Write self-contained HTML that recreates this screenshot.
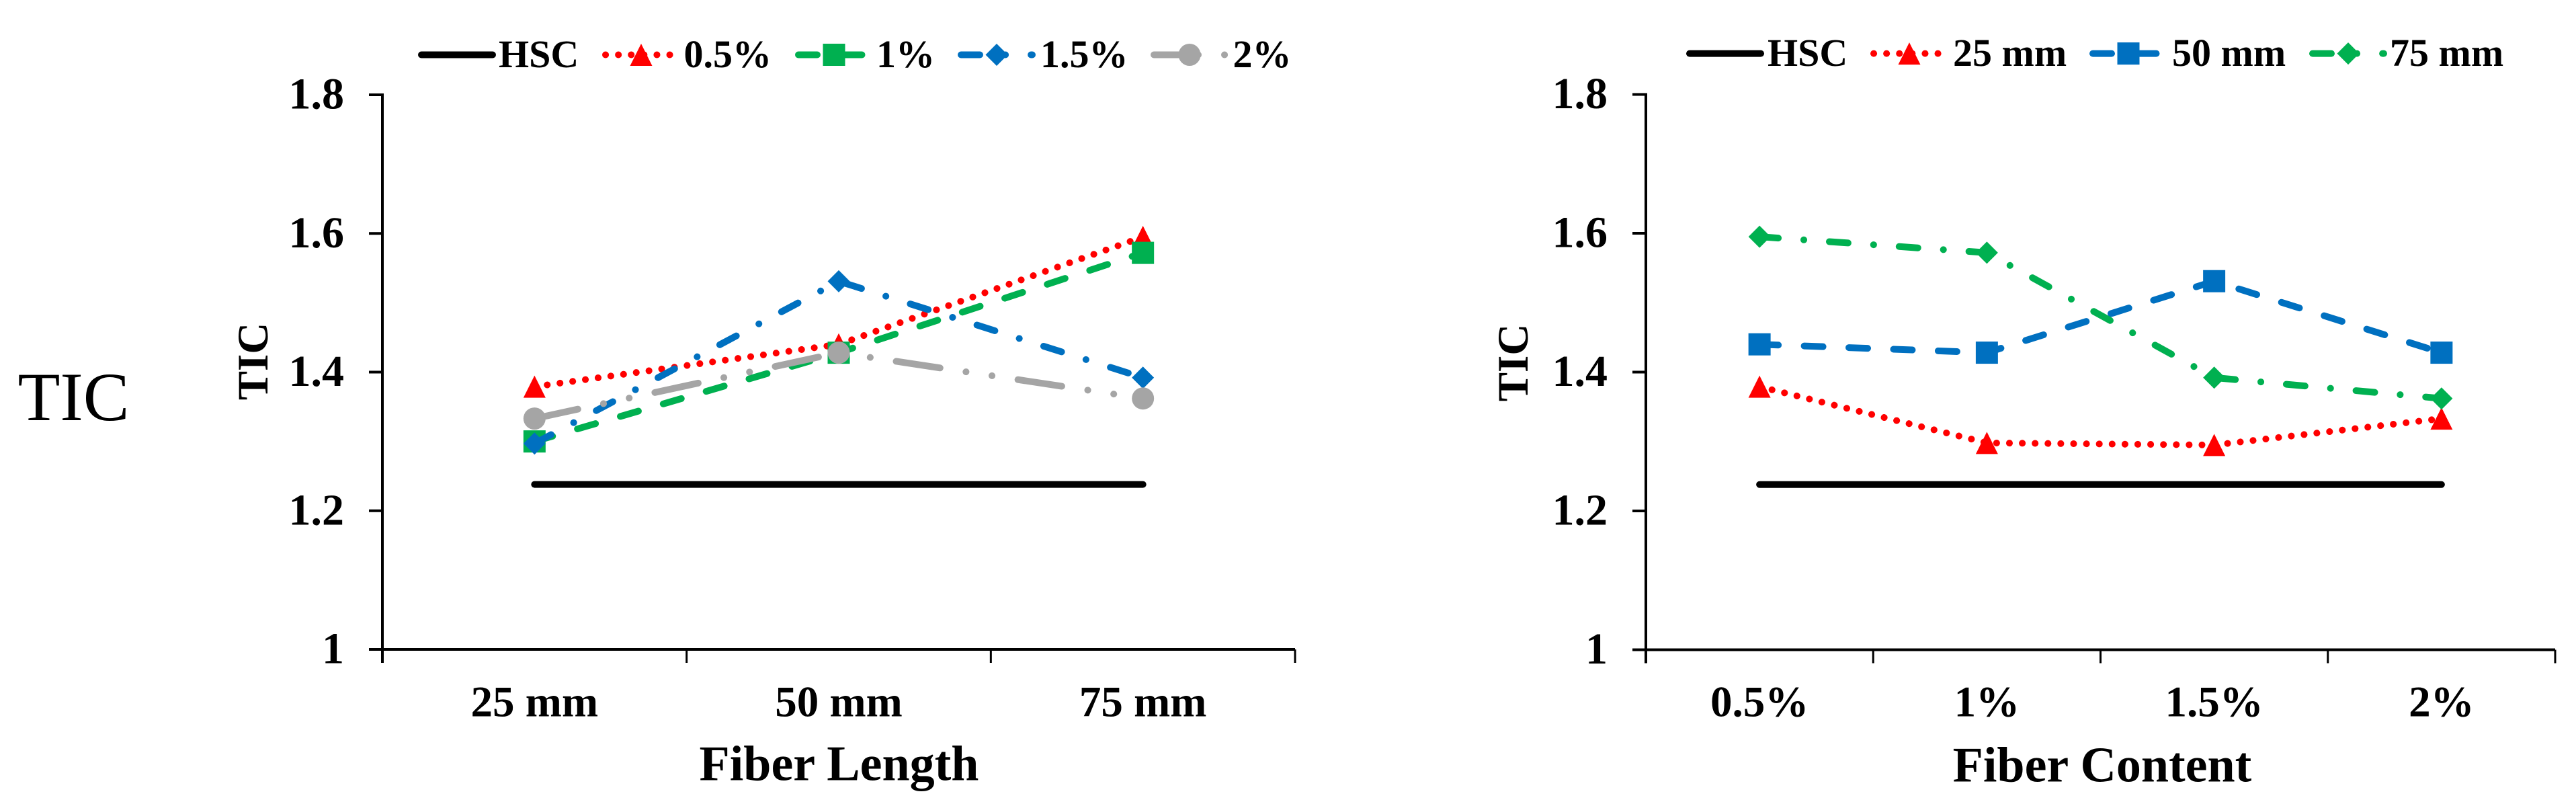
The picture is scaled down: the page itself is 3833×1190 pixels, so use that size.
<!DOCTYPE html>
<html lang="en">
<head>
<meta charset="utf-8">
<title>TIC vs Fiber Length and Fiber Content</title>
<style>
html,body{margin:0;padding:0;background:#fff;width:3833px;height:1190px;overflow:hidden}
svg{display:block}
text{font-family:"Liberation Serif",serif;fill:#000}
</style>
</head>
<body>
<svg id="figure" xmlns="http://www.w3.org/2000/svg" width="3833" height="1190" viewBox="0 0 3833 1190">
<rect width="3833" height="1190" fill="#fff"/>
<text x="26.5" y="625" font-size="103">TIC</text>
</svg>
<script>
// Shared axis
const yTickValues = [1, 1.2, 1.4, 1.6, 1.8];
const yTickLabels = ['1', '1.2', '1.4', '1.6', '1.8'];

// Left chart data
const lengthCategories = ['25 mm', '50 mm', '75 mm'];
const lengthHSC = [1.238, 1.238, 1.238];
const content05 = [1.379, 1.44, 1.595];
const content1 = [1.30, 1.428, 1.572];
const content15 = [1.297, 1.531, 1.392];
const content2 = [1.333, 1.428, 1.362];

// Right chart data
const contentCategories = ['0.5%', '1%', '1.5%', '2%'];
const contentHSC = [1.238, 1.238, 1.238, 1.238];
const length25 = [1.379, 1.298, 1.295, 1.333];
const length50 = [1.44, 1.428, 1.531, 1.428];
const length75 = [1.595, 1.572, 1.392, 1.362];

const NS = 'http://www.w3.org/2000/svg';
const svg = document.getElementById('figure');
const RED = '#FF0000', GREEN = '#00B050', BLUE = '#0070C0', GRAY = '#A5A5A5', BLACK = '#000000';
const SOLID = 'none', DOT = '0.1 19', DASH = '28 38.5', DASHDOT = '28 38 0.1 38', DASHDOTDOT = '66 39 0.1 39 0.1 39';

function make(tag, parent, props) {
  const el = document.createElementNS(NS, tag);
  for (const k in props) el.setAttribute(k, props[k]);
  parent.appendChild(el);
  return el;
}
function addText(parent, str, x, y, size, anchor) {
  const t = make('text', parent, {x: x, y: y, 'font-size': size, 'font-weight': 'bold', 'text-anchor': anchor});
  t.textContent = str;
  return t;
}
function drawMarker(parent, kind, cx, cy, color) {
  const s = 16.5;
  let m;
  if (kind === 'triangle') m = make('polygon', parent, {points: `${cx},${cy - s} ${cx + s},${cy + s} ${cx - s},${cy + s}`, fill: color});
  else if (kind === 'square') m = make('rect', parent, {x: cx - s, y: cy - s, width: 2 * s, height: 2 * s, fill: color});
  else if (kind === 'diamond') m = make('polygon', parent, {points: `${cx},${cy - s} ${cx + s},${cy} ${cx},${cy + s} ${cx - s},${cy}`, fill: color});
  else if (kind === 'circle') m = make('circle', parent, {cx: cx, cy: cy, r: s, fill: color});
  return m;
}
function strokeLine(parent, pts, color, dash) {
  return make('polyline', parent, {points: pts.map(p => p.join(',')).join(' '), fill: 'none', stroke: color, 'stroke-width': 10, 'stroke-linecap': 'round', 'stroke-linejoin': 'round', 'stroke-dasharray': dash});
}

function drawPanel(cfg) {
  const panel = make('g', svg, {});
  
  
  const yScale = v => cfg.bottom - (v - 1) / 0.8 * (cfg.bottom - cfg.top);
  const band = (cfg.right - cfg.left) / cfg.categories.length;
  const xScale = i => cfg.left + (i + 0.5) * band;

  // Y axis
  const yAxis = make('g', panel, {});
  
  
  make('line', yAxis, {x1: cfg.left, x2: cfg.left, y1: cfg.top - 2, y2: cfg.bottom + 20, stroke: BLACK, 'stroke-width': 4});
  yTickValues.forEach((v, i) => {
    const tick = make('line', yAxis, {x1: cfg.left - 20, x2: cfg.left, y1: yScale(v), y2: yScale(v), stroke: BLACK, 'stroke-width': 4});
    
    
    const lab = addText(yAxis, yTickLabels[i], cfg.left - 57, yScale(v) + 20.5, 66, 'end');
    
    
  });

  // X axis
  const xAxis = make('g', panel, {});
  
  
  make('line', xAxis, {x1: cfg.left - 20, x2: cfg.right, y1: cfg.bottom, y2: cfg.bottom, stroke: BLACK, 'stroke-width': 4});
  for (let i = 0; i <= cfg.categories.length; i++) {
    const px = cfg.left + i * band;
    const tick = make('line', xAxis, {x1: px, x2: px, y1: cfg.bottom, y2: cfg.bottom + 20, stroke: BLACK, 'stroke-width': 3});
    
    
  }
  cfg.categories.forEach((c, i) => {
    const lab = addText(xAxis, c, xScale(i), 1065.5, 65, 'middle');
    
    
  });

  // Titles
  const xt = addText(panel, cfg.xTitle, cfg.xTitleX, cfg.xTitleY, 74, 'middle');
  
  
  const yt = addText(panel, 'TIC', 0, 0, 65, 'middle');
  yt.setAttribute('transform', `translate(${cfg.yTitleX},${cfg.yTitleY}) rotate(-90)`);
  
  

  // Series
  cfg.series.forEach(s => {
    const g = make('g', panel, {});
    
    
    const pts = s.values.map((v, i) => [xScale(i), yScale(v)]);
    strokeLine(g, pts, s.color, s.dash);
    if (s.marker) pts.forEach(p => {
      const m = drawMarker(g, s.marker, p[0], p[1], s.color);
      
      
    });
  });

  // Legend
  const legend = make('g', panel, {});
  
  
  cfg.series.forEach((s, i) => {
    const g = make('g', legend, {});
    
    
    const lineX = cfg.legendLineX[i], textX = cfg.legendTextX[i];
    strokeLine(g, [[lineX, cfg.legendY], [lineX + 106, cfg.legendY]], s.color, s.dash);
    if (s.marker) drawMarker(g, s.marker, lineX + 53, cfg.legendY, s.color);
    addText(g, s.label, textX, cfg.legendY + 18.5, 58, 'start');
  });
}

drawPanel({
  name: 'fiber-length-chart', categories: lengthCategories,
  left: 569, right: 1927, top: 141, bottom: 966,
  xTitle: 'Fiber Length', xTitleX: 1248.5, xTitleY: 1160.5, yTitleX: 398, yTitleY: 537.5,
  legendY: 81.5,
  legendLineX: [627, 901, 1188, 1430, 1717],
  legendTextX: [742, 1017.5, 1304, 1548, 1834.5],
  series: [
    {name: 'series-hsc', label: 'HSC', values: lengthHSC, color: BLACK, dash: SOLID, marker: null},
    {name: 'series-0.5-percent', label: '0.5%', values: content05, color: RED, dash: DOT, marker: 'triangle'},
    {name: 'series-1-percent', label: '1%', values: content1, color: GREEN, dash: DASH, marker: 'square'},
    {name: 'series-1.5-percent', label: '1.5%', values: content15, color: BLUE, dash: DASHDOT, marker: 'diamond'},
    {name: 'series-2-percent', label: '2%', values: content2, color: GRAY, dash: DASHDOTDOT, marker: 'circle'}
  ]
});

drawPanel({
  name: 'fiber-content-chart', categories: contentCategories,
  left: 2449, right: 3802, top: 140.5, bottom: 966.5,
  xTitle: 'Fiber Content', xTitleX: 3128, xTitleY: 1162.5, yTitleX: 2273, yTitleY: 539.5,
  legendY: 79.6,
  legendLineX: [2514, 2788, 3114, 3441],
  legendTextX: [2630, 2906, 3232, 3556],
  series: [
    {name: 'series-hsc', label: 'HSC', values: contentHSC, color: BLACK, dash: SOLID, marker: null},
    {name: 'series-25-mm', label: '25 mm', values: length25, color: RED, dash: DOT, marker: 'triangle'},
    {name: 'series-50-mm', label: '50 mm', values: length50, color: BLUE, dash: DASH, marker: 'square'},
    {name: 'series-75-mm', label: '75 mm', values: length75, color: GREEN, dash: DASHDOT, marker: 'diamond'}
  ]
});
</script>
</body>
</html>
